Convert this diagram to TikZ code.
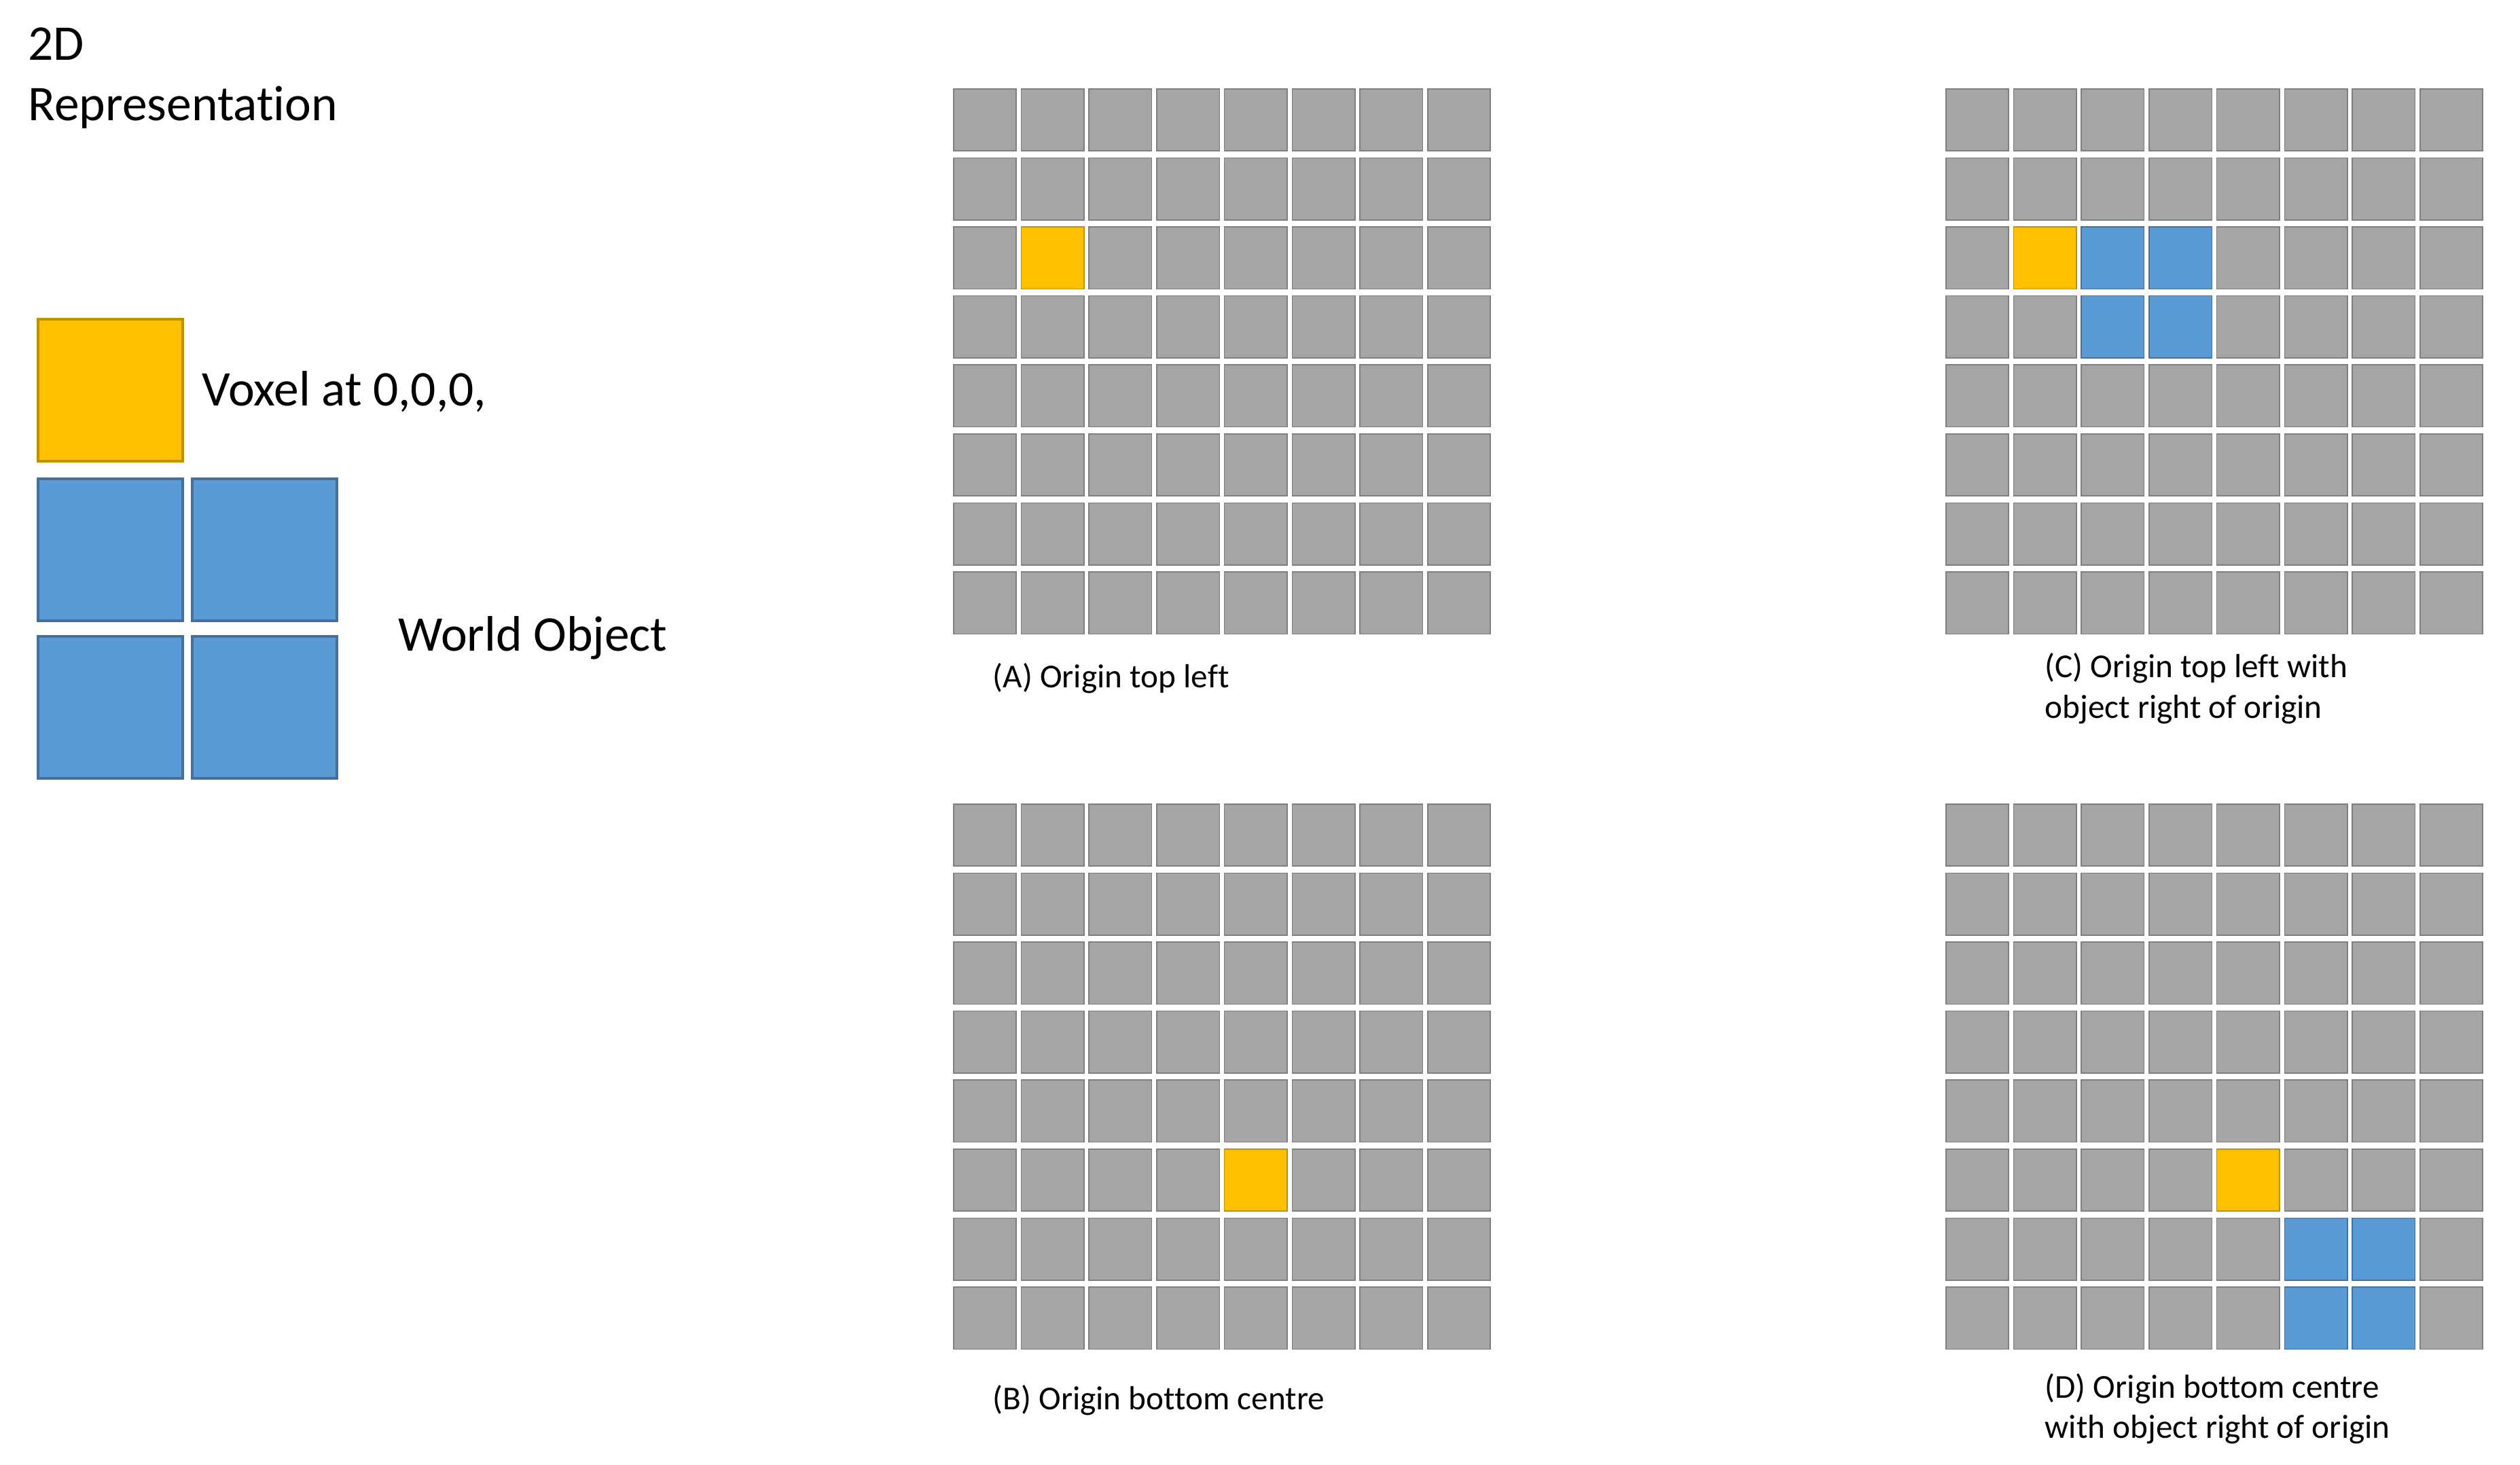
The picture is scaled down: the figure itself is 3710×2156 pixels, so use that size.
\documentclass[tikz,border=0pt]{standalone}
\usepackage{fontspec}
\setmainfont{Carlito}[Ligatures=NoCommon]
\definecolor{cellgray}{HTML}{A5A5A5}
\definecolor{cellline}{HTML}{7F7F7F}
\definecolor{vyellow}{HTML}{FFC000}
\definecolor{vyellowline}{HTML}{BF9000}
\definecolor{vblue}{HTML}{5B9BD5}
\definecolor{vblueline}{HTML}{41719C}
\begin{document}
\begin{tikzpicture}[x=0.01cm,y=-0.01cm,
  graycell/.style={fill=cellgray,draw=cellline,line width=0.45pt},
  yelcell/.style={fill=vyellow,draw=vyellowline,line width=0.45pt},
  bluecell/.style={fill=vblue,draw=vblueline,line width=0.45pt},
  legyel/.style={fill=vyellow,draw=vyellowline,line width=0.9pt},
  legblue/.style={fill=vblue,draw=vblueline,line width=0.9pt},
  bigtext/.style={font=\fontsize{20.9}{25}\selectfont,inner sep=0pt,anchor=base west},
  captext/.style={font=\fontsize{14}{17}\selectfont,inner sep=0pt,anchor=base west}]
\useasboundingbox[fill=white] (0,0) rectangle (3710,2156);
\def\px{99.7}
\def\py{101.6}
% grids
\foreach \gx/\gy in {1403/130, 2864/130, 1403/1183, 2864/1183} {
  \foreach \i in {0,...,7} {
    \foreach \j in {0,...,7} {
      \draw[graycell] ({\gx+\i*\px+0.8},{\gy+\j*\py+0.8}) rectangle ++(92.4,91.4);
    }
  }
}
% highlighted cells: grid origin x, y, column, row, style
\foreach \gx/\gy/\i/\j/\st in {
  1403/130/1/2/yelcell,
  2864/130/1/2/yelcell, 2864/130/2/2/bluecell, 2864/130/3/2/bluecell,
  2864/130/2/3/bluecell, 2864/130/3/3/bluecell,
  1403/1183/4/5/yelcell,
  2864/1183/4/5/yelcell, 2864/1183/5/6/bluecell, 2864/1183/6/6/bluecell,
  2864/1183/5/7/bluecell, 2864/1183/6/7/bluecell} {
  \draw[\st] ({\gx+\i*\px+0.8},{\gy+\j*\py+0.8}) rectangle ++(92.4,91.4);
}
% legend
\draw[legyel] (56,470) rectangle (269,679);
\draw[legblue] (56,705) rectangle (269,914);
\draw[legblue] (283,705) rectangle (496,914);
\draw[legblue] (56,937) rectangle (269,1146);
\draw[legblue] (283,937) rectangle (496,1146);
% texts
\node[bigtext] (t2d) at (41,88) {2D};
\node[bigtext] (trep) at (41,177) {Representation};
\node[bigtext] (tvox) at (297,597) {Voxel at 0,0,0,};
\node[bigtext] (tobj) at (586,958) {World Object};
\node[captext] (capA) at (1461,1012) {(A) Origin top left};
\node[captext] (capB) at (1461,2075) {(B) Origin bottom centre};
\node[captext] (capC1) at (3010,997) {(C) Origin top left with};
\node[captext] (capC2) at (3010,1057) {object right of origin};
\node[captext] (capD1) at (3010,2058) {(D) Origin bottom centre};
\node[captext] (capD2) at (3010,2117) {with object right of origin};
\end{tikzpicture}
\end{document}
